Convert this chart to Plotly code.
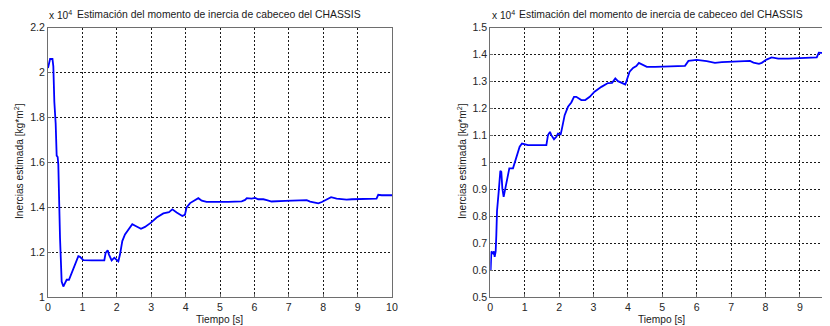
import plotly.graph_objects as go

# ---------------- data (units of 10^4 kg*m^2) ----------------
t_left = [0.0, 0.06, 0.13, 0.155, 0.184, 0.223, 0.252, 0.281, 0.30, 0.32, 0.349, 0.397,
          0.446, 0.494, 0.543, 0.61, 0.688, 0.785, 0.882, 0.93, 1.027, 1.27, 1.637, 1.676,
          1.735, 1.773, 1.85, 1.928, 1.996, 2.045, 2.093, 2.16, 2.238, 2.335, 2.45, 2.548,
          2.703, 2.82, 2.994, 3.159, 3.353, 3.517, 3.614, 3.74, 3.905, 3.98, 4.03, 4.13,
          4.27, 4.37, 4.47, 4.61, 5.24, 5.63, 5.73, 5.78, 5.92, 6.02, 6.11, 6.26, 6.36,
          6.5, 6.89, 7.52, 7.62, 7.76, 7.86, 7.96, 8.1, 8.23, 8.39, 8.68, 8.83, 9.12, 9.41,
          9.55, 9.6, 9.7, 10.0]
v_left = [2.02, 2.06, 2.06, 2.027, 1.87, 1.773, 1.63, 1.624, 1.59, 1.445, 1.265, 1.07,
          1.048, 1.063, 1.078, 1.078, 1.108, 1.153, 1.183, 1.18, 1.165, 1.164, 1.164, 1.198,
          1.209, 1.19, 1.164, 1.176, 1.167, 1.16, 1.19, 1.25, 1.28, 1.299, 1.325, 1.317,
          1.305, 1.313, 1.332, 1.355, 1.373, 1.379, 1.391, 1.377, 1.362, 1.367, 1.40, 1.419,
          1.434, 1.441, 1.43, 1.424, 1.424, 1.427, 1.433, 1.441, 1.439, 1.442, 1.436, 1.436,
          1.432, 1.426, 1.429, 1.432, 1.426, 1.421, 1.418, 1.424, 1.436, 1.445, 1.439, 1.434,
          1.436, 1.438, 1.441, 1.439, 1.456, 1.454, 1.454]

t_right = [0.01, 0.03, 0.078, 0.107, 0.127, 0.156, 0.175, 0.195, 0.243, 0.292, 0.32, 0.35,
           0.388, 0.437, 0.495, 0.553, 0.66, 0.728, 0.786, 0.853, 0.921, 0.999, 1.096, 1.63,
           1.677, 1.735, 1.774, 1.852, 1.92, 1.968, 2.046, 2.084, 2.162, 2.258, 2.355, 2.433,
           2.5, 2.646, 2.76, 2.89, 3.03, 3.23, 3.42, 3.54, 3.634, 3.71, 3.81, 3.925, 3.983,
           4.05, 4.15, 4.245, 4.32, 4.4, 4.55, 4.79, 5.18, 5.66, 5.76, 6.0, 6.29, 6.53, 6.73,
           7.11, 7.55, 7.65, 7.81, 7.89, 8.03, 8.18, 8.37, 8.66, 8.95, 9.15, 9.49, 9.55, 9.63,
           10.0]
v_right = [0.601, 0.67, 0.663, 0.67, 0.65, 0.67, 0.73, 0.82, 0.89, 0.969, 0.965, 0.904,
           0.872, 0.904, 0.953, 0.978, 0.978, 1.009, 1.027, 1.058, 1.07, 1.067, 1.064, 1.064,
           1.101, 1.113, 1.101, 1.086, 1.095, 1.107, 1.104, 1.126, 1.175, 1.206, 1.222, 1.243,
           1.243, 1.231, 1.231, 1.243, 1.262, 1.28, 1.294, 1.295, 1.311, 1.301, 1.295, 1.289,
           1.311, 1.336, 1.35, 1.357, 1.369, 1.363, 1.354, 1.354, 1.355, 1.358, 1.376, 1.38,
           1.375, 1.369, 1.372, 1.374, 1.376, 1.37, 1.365, 1.369, 1.381, 1.389, 1.385, 1.385,
           1.386, 1.387, 1.389, 1.407, 1.406, 1.407]

x_ticks = [0, 1, 2, 3, 4, 5, 6, 7, 8, 9, 10]
y_ticks_left = [1, 1.2, 1.4, 1.6, 1.8, 2, 2.2]
y_ticktext_left = ["1", "1.2", "1.4", "1.6", "1.8", "2", "2.2"]
y_ticks_right = [0.5, 0.6, 0.7, 0.8, 0.9, 1, 1.1, 1.2, 1.3, 1.4, 1.5]
y_ticktext_right = ["0.5", "0.6", "0.7", "0.8", "0.9", "1", "1.1", "1.2", "1.3", "1.4", "1.5"]

title_text = "Estimación del momento de inercia de cabeceo del CHASSIS"
exp_text = "x 10<sup>4</sup>"
ylabel_text = "Inercias estimada [kg*m<sup>2</sup>]"
xlabel_text = "Tiempo [s]"

# ---------------- layout ----------------
# the page body has an 8px margin, so the figure is 822x318 and starts at (8, 8)
OFF = 8
W, H = 830 - OFF, 326 - OFF
FONT = "Liberation Sans, Arial, sans-serif"
LINE = "#0000ff"
AX = "#6e6e6e"


def px_x(p):  # screen pixel -> paper x
    return (p - OFF) / W


def px_y(p):  # screen pixel -> paper y
    return (H - (p - OFF)) / H


fig = go.Figure()
fig.add_trace(go.Scatter(x=t_left, y=v_left, mode="lines",
                         line=dict(color=LINE, width=1.8), xaxis="x", yaxis="y",
                         showlegend=False, hoverinfo="skip"))
fig.add_trace(go.Scatter(x=t_right, y=v_right, mode="lines",
                         line=dict(color=LINE, width=1.8), xaxis="x2", yaxis="y2",
                         showlegend=False, hoverinfo="skip"))

y_dom = [px_y(297.3), px_y(27.5)]
common = dict(showline=True, linecolor=AX, linewidth=1,
              showgrid=True, gridcolor="#1a1a1a", gridwidth=1, griddash="2px,2px",
              zeroline=False, ticks="inside", ticklen=3, tickcolor=AX,
              tickfont=dict(family=FONT, size=10.6, color="#262626"),
              automargin=False, fixedrange=True)

fig.update_layout(
    width=W, height=H,
    margin=dict(l=0, r=0, t=0, b=0),
    paper_bgcolor="white", plot_bgcolor="white",
    showlegend=False,
    xaxis=dict(domain=[px_x(48), px_x(392)], range=[0, 10], anchor="y", mirror=True,
               tickvals=x_ticks, ticktext=[str(v) for v in x_ticks], **common),
    yaxis=dict(domain=y_dom, range=[1, 2.2], anchor="x", mirror=True,
               tickvals=y_ticks_left, ticktext=y_ticktext_left, **common),
    # right panel runs past the window edge: its right frame is off-screen
    xaxis2=dict(domain=[px_x(490.3), 1.0], range=[0, (830 - 490.3) / 34.4], anchor="y2",
                mirror=True,
                tickvals=x_ticks, ticktext=[str(v) for v in x_ticks], **common),
    yaxis2=dict(domain=y_dom, range=[0.5, 1.5], anchor="x2", mirror=False,
                tickvals=y_ticks_right, ticktext=y_ticktext_right, **common),
)

ann_font = dict(family=FONT, size=10.4, color="#1a1a1a")
lab_font = dict(family=FONT, size=10.2, color="#1a1a1a")
annotations = [
    dict(text=title_text, x=px_x(219), y=px_y(15), xanchor="center", yanchor="middle",
         font=ann_font),
    dict(text=title_text, x=px_x(660.5), y=px_y(15), xanchor="center", yanchor="middle",
         font=ann_font),
    dict(text=exp_text, x=px_x(47), y=px_y(15), xanchor="left", yanchor="middle",
         font=lab_font),
    dict(text=exp_text, x=px_x(490), y=px_y(15), xanchor="left", yanchor="middle",
         font=lab_font),
    dict(text=ylabel_text, x=px_x(19), y=px_y(161), xanchor="center", yanchor="middle",
         textangle=-90, font=lab_font),
    dict(text=ylabel_text, x=px_x(462), y=px_y(161), xanchor="center", yanchor="middle",
         textangle=-90, font=lab_font),
    dict(text=xlabel_text, x=px_x(219), y=px_y(319), xanchor="center", yanchor="middle",
         font=lab_font),
    dict(text=xlabel_text, x=px_x(661), y=px_y(319), xanchor="center", yanchor="middle",
         font=lab_font),
    dict(text="10", x=px_x(834), y=px_y(306), xanchor="center", yanchor="middle",
         font=dict(family=FONT, size=10.6, color="#262626")),
]
for a in annotations:
    a.update(xref="paper", yref="paper", showarrow=False)
fig.update_layout(annotations=annotations)

fig.write_html("out.html", config={"displayModeBar": False, "staticPlot": True})
